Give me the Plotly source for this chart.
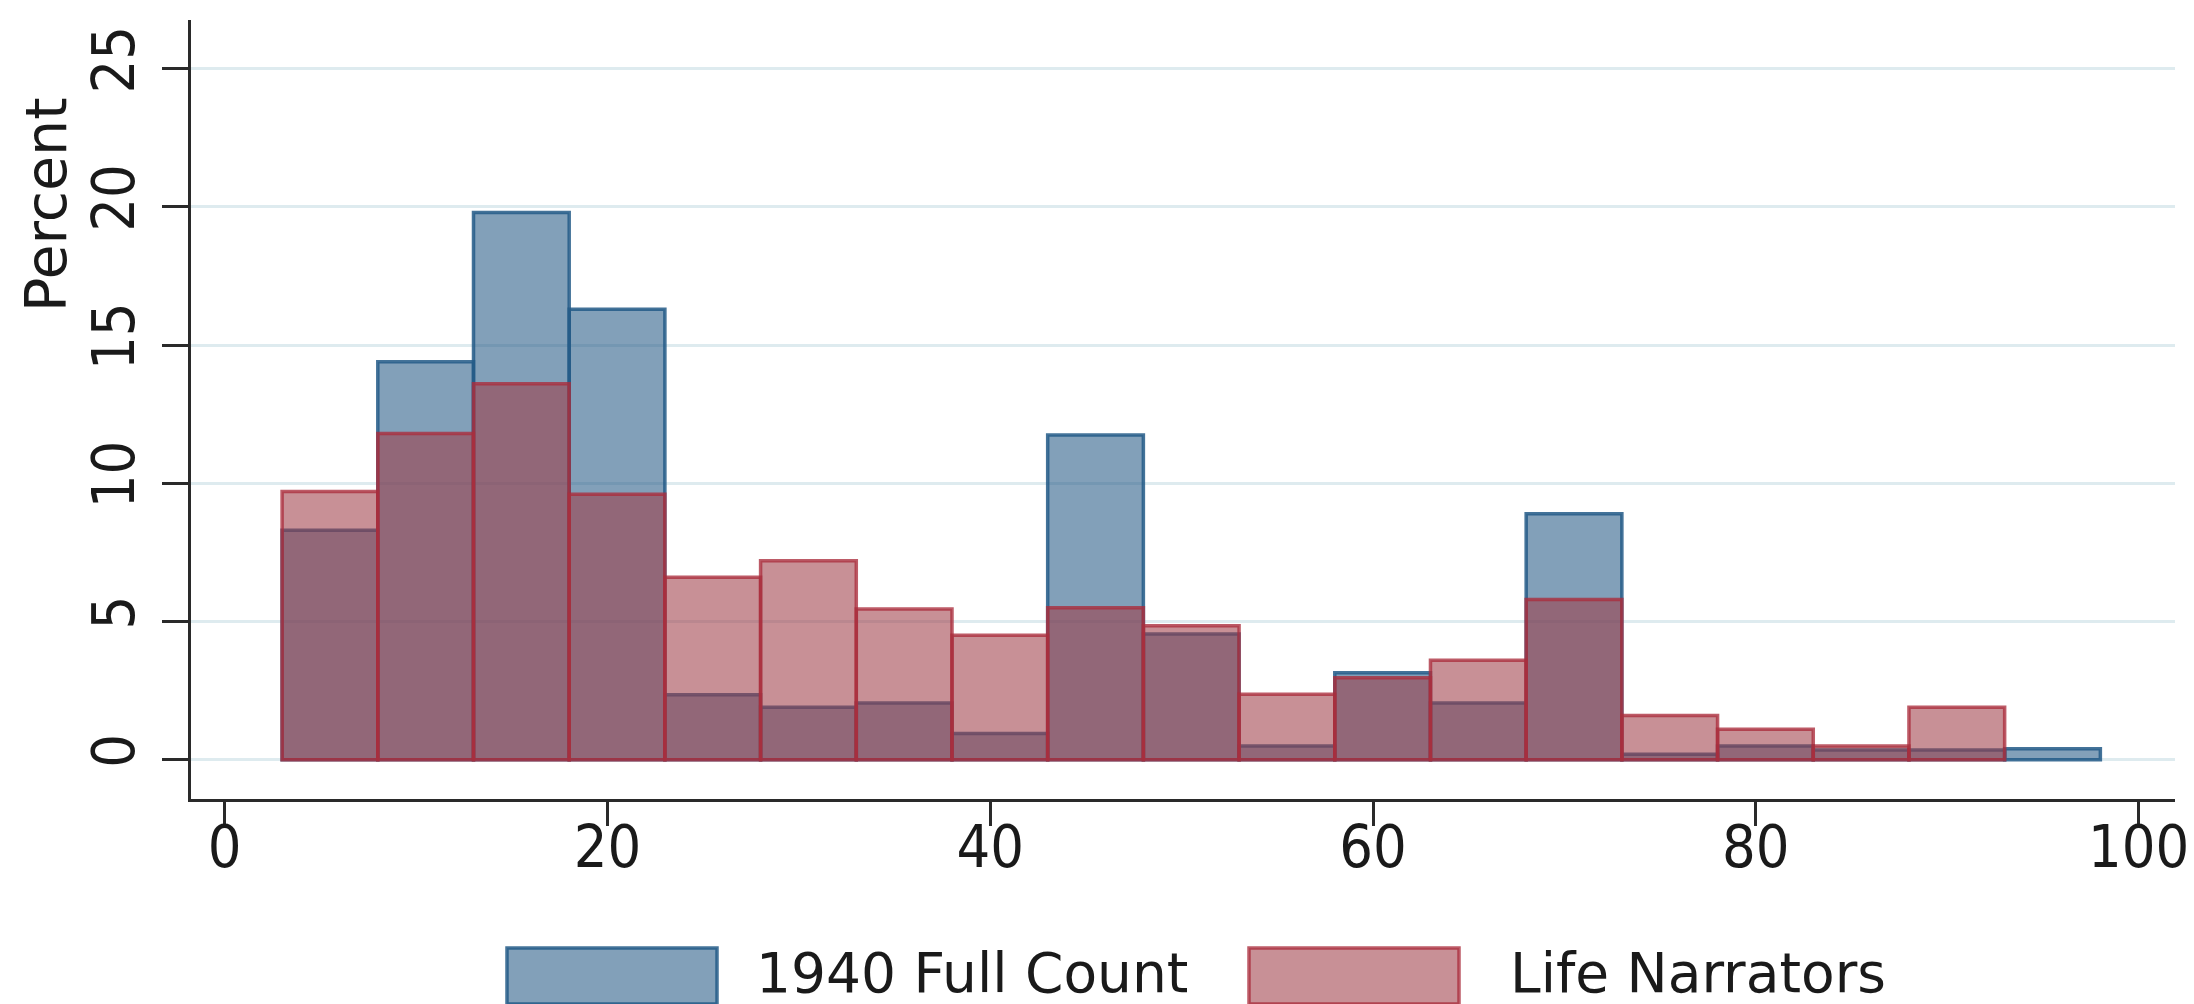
import plotly.graph_objects as go

# ---- data ----
bin_left = [3, 8, 13, 18, 23, 28, 33, 38, 43, 48, 53, 58, 63, 68, 73, 78, 83, 88, 93]
bin_width = 5
full_count = [8.3, 14.4, 19.8, 16.3, 2.35, 1.9, 2.05, 0.95, 11.75, 4.55, 0.5, 3.15, 2.05, 8.9, 0.2, 0.5, 0.35, 0.35, 0.4]
life_narrators = [9.7, 11.8, 13.6, 9.6, 6.6, 7.2, 5.45, 4.5, 5.5, 4.85, 2.37, 2.97, 3.6, 5.8, 1.6, 1.1, 0.5, 1.9, None]
series_names = ["1940 Full Count", "Life Narrators"]
x_ticks = [0, 20, 40, 60, 80, 100]
y_ticks = [0, 5, 10, 15, 20, 25]

# ---- styles ----
BLUE_FILL = "rgba(36,88,132,0.57)"
BLUE_LINE = "rgba(35,90,135,0.85)"
RED_FILL = "rgba(158,60,71,0.57)"
RED_LINE = "rgba(170,45,60,0.78)"
FONT = "DejaVu Sans"
TICKFONT = "DejaVu Sans Condensed, DejaVu Sans"
TXT = "#1a1a1a"
AX = "#2a2a2a"

W, H = 2194, 1004
L, R, T, B = 183, 27, 12, 213

centers = [b + bin_width / 2 for b in bin_left]

fig = go.Figure()
fig.add_trace(go.Bar(
    x=centers, y=full_count, width=bin_width, name=series_names[0],
    marker=dict(color=BLUE_FILL, line=dict(color=BLUE_LINE, width=3.5)),
    showlegend=False,
))
fig.add_trace(go.Bar(
    x=centers, y=life_narrators, width=bin_width, name=series_names[1],
    marker=dict(color=RED_FILL, line=dict(color=RED_LINE, width=3.5)),
    showlegend=False,
))

fig.update_layout(
    width=W, height=H,
    margin=dict(l=L, r=R, t=T, b=B, pad=0),
    barmode="overlay",
    paper_bgcolor="white",
    plot_bgcolor="white",
    font=dict(family=FONT, size=55, color=TXT),
    xaxis=dict(
        range=[-1.76, 101.9], tickvals=x_ticks, ticktext=[str(v) for v in x_ticks],
        showgrid=False, zeroline=False, showline=True, linecolor=AX, linewidth=3,
        ticks="outside", ticklen=24, tickwidth=3, tickcolor=AX,
        ticklabelstandoff=-30,
        tickfont=dict(size=59, family=TICKFONT, color=TXT),
    ),
    yaxis=dict(
        range=[-1.42, 26.76], tickvals=y_ticks, ticktext=[str(v) for v in y_ticks],
        showgrid=True, gridcolor="rgb(222,235,239)", gridwidth=2.5,
        zeroline=False, showline=True, linecolor=AX, linewidth=3,
        ticks="outside", ticklen=26, tickwidth=3, tickcolor=AX,
        tickangle=-90, ticklabelstandoff=4,
        tickfont=dict(size=59, family=TICKFONT, color=TXT),
    ),
)

# y axis title
fig.add_annotation(
    text="Percent", xref="paper", yref="y", x=0, y=20.07,
    xshift=-145, xanchor="center", yanchor="middle", textangle=-90,
    showarrow=False, font=dict(size=57, family=FONT, color=TXT),
)

# manual legend (large swatches like the original)
pw = W - L - R
ph = H - T - B

def px_to_paper(px, py):
    return (px - L) / pw, (H - B - py) / ph

legend_items = [
    (series_names[0], BLUE_FILL, BLUE_LINE, 499, 709, 746),
    (series_names[1], RED_FILL, RED_LINE, 1241, 1451, 1500),
]
for name, fill, line, x0, x1, tx in legend_items:
    a0, b0 = px_to_paper(x0, 996)
    a1, b1 = px_to_paper(x1, 940)
    fig.add_shape(type="rect", xref="paper", yref="paper", x0=a0, x1=a1, y0=b0, y1=b1,
                  fillcolor=fill, line=dict(color=line, width=3.5))
    ta, tb = px_to_paper(tx, 965)
    fig.add_annotation(text=name, xref="paper", yref="paper", x=ta, y=tb,
                       xanchor="left", yanchor="middle", showarrow=False,
                       font=dict(size=55, family=FONT, color=TXT))

fig.write_html("out.html")
